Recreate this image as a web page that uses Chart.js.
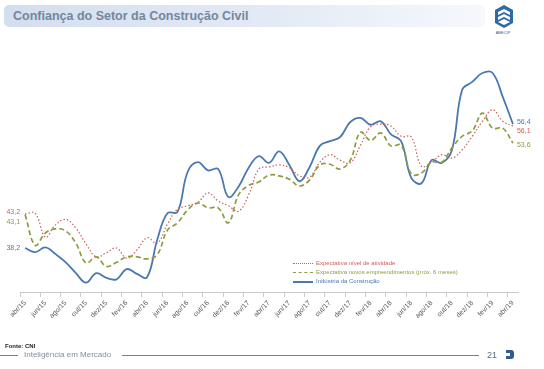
<!DOCTYPE html>
<html lang="pt-BR">
<head>
<meta charset="utf-8">
<title>Confiança do Setor da Construção Civil</title>
<script src="https://cdn.jsdelivr.net/npm/chart.js@4.4.0/dist/chart.umd.min.js"></script>
<style>
  html, body { margin: 0; padding: 0; background: #fff; }
  body { width: 544px; height: 369px; position: relative; overflow: hidden; font-family: "Liberation Sans", Arial, sans-serif; }
  #chartWrap { position: absolute; left: 0; top: 0; width: 544px; height: 369px; }
  .title-bar {
    position: absolute; left: 4px; top: 5px; width: 481px; height: 22px; border-radius: 5px;
    background: linear-gradient(90deg, #d3deee 0%, #e3eaf5 55%, #f6f8fc 100%);
  }
  .title-bar span {
    position: absolute; left: 9px; top: 4px; font-size: 12.5px; font-weight: bold; color: #74869f;
  }
  .logo { position: absolute; left: 493px; top: 4px; }
  .logo-text { position: absolute; left: 492px; top: 30px; width: 22px; text-align: center; font-size: 4px; color: #2f5d8f; }
  .legend { position: absolute; left: 293px; top: 259px; font-size: 6px; line-height: 9px; }
  .legend div { display: flex; align-items: center; white-space: nowrap; }
  .legend i { display: inline-block; width: 20px; height: 0; margin-right: 3px; }
  .source { position: absolute; left: 5px; top: 343px; font-size: 6px; font-weight: bold; color: #222; }
  .footline { position: absolute; height: 1px; background: #6f8193; top: 355px; }
  .foottext { position: absolute; left: 24px; top: 350px; font-size: 8px; color: #7f8fa0; }
  .pagenum { position: absolute; left: 487px; top: 350px; font-size: 9px; color: #5b6b7b; }
  .arrow { position: absolute; left: 505px; top: 349px; }
</style>
</head>
<body>
<div class="title-bar"><span>Confiança do Setor da Construção Civil</span></div>
<svg class="logo" width="22" height="26" viewBox="0 0 22 26">
  <path d="M11 1 L20 6 L20 19 L11 24 L2 19 L2 6 Z" fill="#2f6aa3"/>
  <path d="M5 8 L11 5 L17 8 L17 11 L11 8 L5 11 Z" fill="#fff"/>
  <path d="M5 13 L11 10 L17 13 L17 16 L11 13 L5 16 Z" fill="#fff"/>
  <path d="M5 18 L11 15 L17 18 L11 21 Z" fill="#fff"/>
</svg>
<div class="logo-text">ABECIP</div>

<div id="chartWrap"><canvas id="chart" width="544" height="369"></canvas></div>
<div class="legend" id="legend"></div>

<div class="source">Fonte: CNI</div>
<div class="footline" style="left:0;width:18px"></div>
<div class="foottext">Inteligência em Mercado</div>
<div class="footline" style="left:122px;width:357px"></div>
<div class="pagenum">21</div>
<svg class="arrow" width="10" height="11" viewBox="0 0 10 11">
  <path d="M1 1 L6 1 Q9 1 9 4 L9 7 Q9 10 6 10 L1 10 L1 7 L5 7 L5 4 L1 4 Z" fill="#2f5d8f"/>
</svg>

<script>
// Monthly data, abr/15 .. abr/19
const months = [
    'abr/15','mai/15','jun/15','jul/15','ago/15','set/15','out/15','nov/15','dez/15',
    'jan/16','fev/16','mar/16','abr/16','mai/16','jun/16','jul/16','ago/16','set/16','out/16','nov/16','dez/16',
    'jan/17','fev/17','mar/17','abr/17','mai/17','jun/17','jul/17','ago/17','set/17','out/17','nov/17','dez/17',
    'jan/18','fev/18','mar/18','abr/18','mai/18','jun/18','jul/18','ago/18','set/18','out/18','nov/18','dez/18',
    'jan/19','fev/19','mar/19','abr/19'
];

const seriesNames = [
    'Expectativa nível de atividade',
    'Expectativa novos empreendimentos (próx. 6 meses)',
    'Indústria da Construção'
];

const nivelAtividade = [
    43.2, 43.3, 39.8, 41.6, 42.4, 41.1, 38.8, 36.9, 37.5, 38.2, 36.7, 37.9, 39.7, 38.9, 41.7, 43.9,
    44.4, 44.9, 46.3, 45.1, 44.4, 43.6, 46.0, 49.8, 50.1, 50.4, 50.0, 48.8, 48.6, 50.8, 51.9, 51.1,
    50.7, 53.3, 56.0, 56.4, 56.1, 54.6, 54.5, 50.2, 50.8, 51.9, 51.4, 52.6, 54.6, 56.8, 58.5, 56.8, 56.1
];

const novosEmpreend = [
    43.1, 38.6, 40.4, 41.0, 40.7, 38.9, 36.0, 36.9, 35.5, 36.1, 36.9, 36.9, 36.6, 37.2, 40.8, 41.9,
    43.8, 44.8, 44.1, 44.1, 41.9, 46.0, 47.4, 47.9, 48.9, 48.8, 48.3, 47.3, 48.2, 50.4, 50.5, 49.8,
    51.1, 55.2, 54.0, 55.1, 53.2, 53.3, 49.1, 49.2, 50.8, 50.8, 52.9, 54.6, 55.4, 58.0, 55.8, 55.8, 53.6
];

const industria = [
    38.2, 37.6, 38.3, 37.3, 36.1, 34.5, 33.1, 34.5, 33.8, 33.6, 35.1, 34.4, 33.9, 39.4, 43.3, 43.5,
    49.4, 50.8, 49.6, 49.8, 45.7, 47.2, 50.0, 51.7, 50.7, 52.4, 50.4, 48.0, 50.1, 53.2, 53.9, 54.5,
    56.7, 57.3, 56.3, 56.8, 54.9, 53.9, 48.5, 47.7, 51.1, 50.7, 52.6, 61.4, 62.6, 63.9, 63.9, 60.4, 56.4
];

const colors = ['#c8605c', '#8e9c40', '#4a78b0'];

/**
 * First / last value labels
 */
const endLabels = {
    id: 'endLabels',
    afterDatasetsDraw(chart) {
        const ctx = chart.ctx;
        const startShift = [-2, 7, 0];
        const endShift = [5, 2, -2];
        ctx.save();
        ctx.font = '7px "Liberation Sans", Arial, sans-serif';
        ctx.textBaseline = 'middle';
        chart.data.datasets.forEach((ds, i) => {
            const pts = chart.getDatasetMeta(i).data;
            const first = pts[0];
            const last = pts[pts.length - 1];
            const fmt = v => v.toFixed(1).replace('.', ',');
            ctx.fillStyle = ds.borderColor;
            ctx.textAlign = 'right';
            ctx.fillText(fmt(ds.data[0]), first.x - 5, first.y + startShift[i]);
            ctx.textAlign = 'left';
            ctx.fillText(fmt(ds.data[ds.data.length - 1]), last.x + 4, last.y + endShift[i]);
        });
        ctx.restore();
    }
};

const chart = new Chart(document.getElementById('chart'), {
    type: 'line',
    data: {
        labels: months,
        datasets: [
            {
                label: seriesNames[0],
                data: nivelAtividade,
                borderColor: colors[0],
                borderWidth: 1.2,
                borderDash: [1.5, 2],
                pointRadius: 0,
                tension: 0.4,
                fill: false
            },
            {
                label: seriesNames[1],
                data: novosEmpreend,
                borderColor: colors[1],
                borderWidth: 1.7,
                borderDash: [5, 3],
                pointRadius: 0,
                tension: 0.4,
                fill: false
            },
            {
                label: seriesNames[2],
                data: industria,
                borderColor: colors[2],
                borderWidth: 1.8,
                pointRadius: 0,
                tension: 0.4,
                fill: false
            }
        ]
    },
    options: {
        responsive: false,
        animation: false,
        events: [],
        layout: { padding: { left: 20, right: 26, top: 41, bottom: 47 } },
        plugins: {
            legend: { display: false },
            tooltip: { enabled: false }
        },
        scales: {
            x: {
                offset: true,
                grid: {
                    offset: true,
                    drawOnChartArea: false,
                    tickLength: 4,
                    tickColor: c => (c.index % 2 === 0 ? '#c8c8c8' : 'rgba(0,0,0,0)')
                },
                border: { display: true, color: '#c8c8c8', width: 1 },
                ticks: {
                    autoSkip: false,
                    maxRotation: 45,
                    minRotation: 45,
                    padding: 2,
                    color: '#595959',
                    font: { size: 7, family: '"Liberation Sans", Arial, sans-serif' },
                    callback: function (val, idx) {
                        return idx % 2 === 0 ? this.getLabelForValue(val) : '';
                    }
                }
            },
            y: {
                display: false,
                min: 31.6,
                max: 68.6
            }
        }
    },
    plugins: [endLabels]
});

// HTML legend built from the datasets
const legendEl = document.getElementById('legend');
chart.data.datasets.forEach((ds, i) => {
    const row = document.createElement('div');
    const sample = document.createElement('i');
    const style = i === 0 ? 'dotted' : (i === 1 ? 'dashed' : 'solid');
    sample.style.borderTop = (i === 2 ? 2 : 1.5) + 'px ' + style + ' ' + ds.borderColor;
    const txt = document.createElement('span');
    txt.textContent = ds.label;
    txt.style.color = ds.borderColor;
    row.appendChild(sample);
    row.appendChild(txt);
    legendEl.appendChild(row);
});
</script>
</body>
</html>
